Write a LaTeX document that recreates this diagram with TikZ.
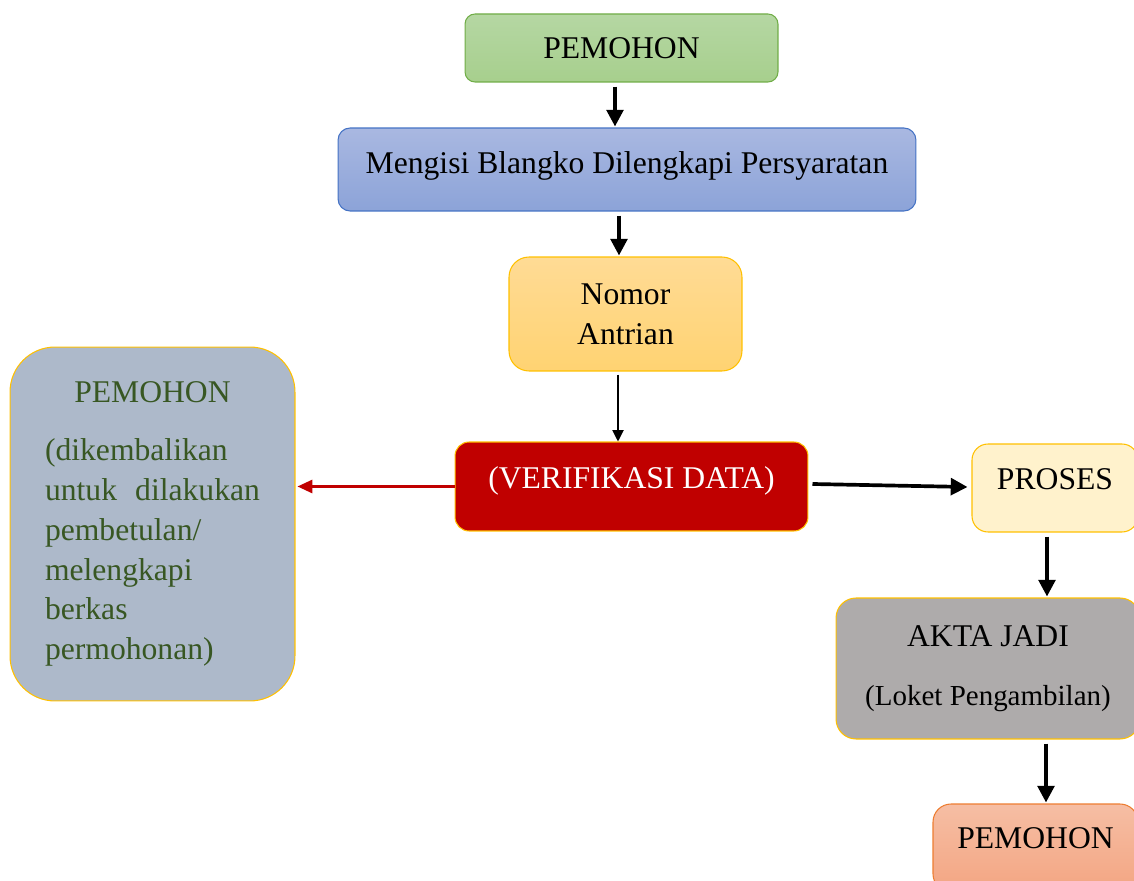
\documentclass[tikz,border=0pt]{standalone}
\usepackage{fontspec}
\setmainfont{Liberation Serif}
\usetikzlibrary{positioning,arrows.meta,calc}
\definecolor{green500}{HTML}{70AD47}
\definecolor{green200}{HTML}{B5D7A3}
\definecolor{green300}{HTML}{A7CF8D}
\definecolor{blue500} {HTML}{4472C4}
\definecolor{blue200} {HTML}{A9B8E1}
\definecolor{blue300} {HTML}{8CA3D8}
\definecolor{gold500} {HTML}{FFC000}
\definecolor{gold200} {HTML}{FFDB95}
\definecolor{gold300} {HTML}{FFD372}
\definecolor{gold100} {HTML}{FFF2CC}
\definecolor{slate200}{HTML}{ADB9CA}
\definecolor{moss700} {HTML}{385723}
\definecolor{red700}  {HTML}{C00000}
\definecolor{grey400} {HTML}{AEABAB}
\definecolor{clay500} {HTML}{ED7D31}
\definecolor{clay200} {HTML}{F6BEA4}
\definecolor{clay300} {HTML}{F3A582}
\newcommand{\lift}[2]{\raisebox{#1}[\height][\depth]{#2}}
\tikzset{
  box/.style  ={line width=0.6pt, align=center, inner sep=0pt,
                font=\fontsize{18}{22.7}\selectfont},
  boxg/.style ={box, draw=green500, top color=green200,
                bottom color=green300, rounded corners=0.2cm},
  boxb/.style ={box, draw=blue500, top color=blue200,
                bottom color=blue300, rounded corners=0.24cm},
  boxy/.style ={box, draw=gold500, top color=gold200,
                bottom color=gold300, rounded corners=0.4cm},
  boxr/.style ={box, draw=gold500, fill=red700, text=white,
                rounded corners=0.28cm},
  boxp/.style ={box, draw=gold500, fill=gold100, rounded corners=0.32cm},
  boxa/.style ={box, draw=gold500, fill=grey400, rounded corners=0.4cm},
  boxo/.style ={box, draw=clay500, top color=clay200,
                bottom color=clay300, rounded corners=0.36cm},
  boxs/.style ={box, draw=gold500, fill=slate200, text=moss700,
                rounded corners=0.9cm, align=left, text width=4.3cm,
                inner xsep=0.7cm},
  ar/.style   ={-{Triangle[length=9.5pt, width=9.5pt]}, line width=2.1pt},
  arthin/.style={-{Triangle[length=6.5pt, width=6.5pt]}, line width=0.6pt},
  arred/.style={-{Triangle[length=8.5pt, width=7.5pt]}, line width=1.4pt,
                draw=red700, color=red700}
}
\begin{document}
\begin{tikzpicture}[x=0.02cm, y=-0.02cm]
\useasboundingbox (0,0) rectangle (1134,881);

\node[boxg, minimum width=6.26cm, minimum height=1.36cm] (top)
  at (621.5,48) {PEMOHON};
\node[boxb, minimum width=11.56cm, minimum height=1.66cm] (blue)
  at (627,169.5) {\lift{0.08cm}{Mengisi Blangko Dilengkapi Persyaratan}};
\node[boxy, minimum width=4.66cm, minimum height=2.28cm] (nomor)
  at (625.5,314) {Nomor\\Antrian};
\node[boxr, minimum width=7.06cm, minimum height=1.78cm] (verif)
  at (631.5,486.5) {\lift{0.12cm}{(VERIFIKASI DATA)}};
\node[boxs, minimum height=7.08cm] (back) at (152.5,524)
  {\makebox[\linewidth]{PEMOHON}\\[10.3pt]
   (dikembalikan\\ untuk\hfill dilakukan\\ pembetulan/\\ melengkapi\\
   berkas\\ permohonan)};
\node[boxp, minimum width=3.32cm, minimum height=1.76cm] (proses)
  at (1055,488) {\lift{0.18cm}{PROSES}};
\node[boxa, minimum width=6.08cm, minimum height=2.82cm] (akta)
  at (988,668.5) {AKTA JADI\\[11pt]
  {\fontsize{16.5}{20}\selectfont (Loket Pengambilan)}};
\node[boxo, minimum width=4.1cm, minimum height=1.76cm] (pem2)
  at (1035.5,848) {\lift{0.2cm}{PEMOHON}};

\foreach \a/\b/\dx in {top/blue/-6.5, blue/nomor/-8, proses/akta/-8,
                       akta/pem2/58}
  \draw[ar] ($(\a.south)+(\dx,4)$) -- ($(\a.south |- \b.north)+(\dx,-1)$);
\draw[arthin] ($(nomor.south)+(-7.5,3)$)
  -- ($(nomor.south |- verif.north)+(-7.5,0)$);
\draw[arred] (verif.west) -- ($(verif.west -| back.east)+(2,0)$);
\draw[ar] ($(verif.east)+(4,-2.5)$) -- ($(proses.west)+(-4,-1)$);
\end{tikzpicture}
\end{document}
